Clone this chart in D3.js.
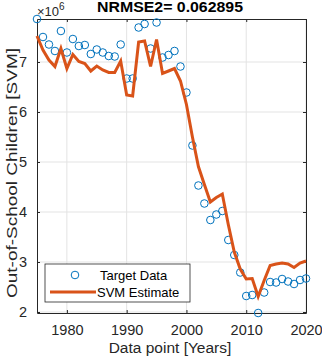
<!DOCTYPE html>
<html>
<head>
<meta charset="utf-8">
<script src="https://cdn.jsdelivr.net/npm/d3@7"></script>
<style>
  body { margin: 0; background: #fff; }
  svg { font-family: Arial, "Liberation Sans", sans-serif; }
</style>
</head>
<body>
<svg id="chart" width="322" height="357"></svg>
<script>
// values in millions of children
const years = d3.range(1975, 2021);
const target = [7.86, 7.50, 7.35, 7.22, 7.62, 7.19, 7.46, 7.32, 7.34, 7.16,
  7.25, 7.19, 7.12, 7.11, 7.35, 6.67, 6.67, 7.69, 7.76, 7.27,
  7.79, 7.09, 7.14, 7.22, 6.91, 6.39, 5.33, 4.53, 4.17, 3.84,
  3.95, 4.02, 3.44, 3.14, 2.79, 2.32, 2.34, 1.98, 2.39, 2.60,
  2.59, 2.66, 2.61, 2.56, 2.64, 2.67];
const svmEst = [7.52, 7.24, 7.04, 6.91, 7.27, 6.87, 7.15, 7.01, 6.97, 6.82,
  6.92, 6.84, 6.79, 6.79, 7.02, 6.34, 6.32, 7.40, 7.42, 6.91,
  7.45, 6.77, 6.82, 6.87, 6.62, 6.15, 5.50, 4.91, 4.55, 4.20,
  4.29, 4.36, 3.75, 3.20, 2.86, 2.66, 2.67, 2.31, 2.63, 2.93,
  2.96, 2.98, 2.96, 2.89, 2.98, 3.02];
const xTicks = [1980, 1990, 2000, 2010, 2020];
const yTicks = [2, 3, 4, 5, 6, 7];

const svg = d3.select("#chart");
const mLeft = 37, mRight = 306, mTop = 19, mBottom = 313;

const x = d3.scaleLinear().domain([1975, 2020]).range([mLeft, mRight]);
const y = d3.scaleLinear().domain(d3.extent(target)).range([mBottom, mTop]);

// grid
const grid = svg.append("g").attr("stroke", "#e3e3e3").attr("stroke-width", 1);
grid.selectAll(".gx").data(xTicks).join("line")
  .attr("x1", d => x(d)).attr("x2", d => x(d)).attr("y1", mTop).attr("y2", mBottom);
grid.selectAll(".gy").data(yTicks).join("line")
  .attr("x1", mLeft).attr("x2", mRight).attr("y1", d => y(d)).attr("y2", d => y(d));

// axes
const axisStyle = g => {
  g.select(".domain").attr("stroke", "#262626");
  g.selectAll(".tick line").attr("stroke", "#262626");
  g.selectAll("text").attr("fill", "#262626").attr("font-size", 14.5);
};
svg.append("g").attr("transform", `translate(0,${mBottom})`)
  .call(d3.axisBottom(x).tickValues(xTicks).tickSize(-3).tickSizeOuter(0).tickPadding(12).tickFormat(d3.format("d")))
  .call(axisStyle);
svg.append("g").attr("transform", `translate(0,${mTop})`)
  .call(d3.axisTop(x).tickValues(xTicks).tickSize(-3).tickSizeOuter(0).tickFormat(""))
  .call(axisStyle);
svg.append("g").attr("transform", `translate(${mLeft},0)`)
  .call(d3.axisLeft(y).tickValues(yTicks).tickSize(-3).tickSizeOuter(0).tickPadding(10).tickFormat(d3.format("d")))
  .call(axisStyle);
svg.append("g").attr("transform", `translate(${mRight},0)`)
  .call(d3.axisRight(y).tickValues(yTicks).tickSize(-3).tickSizeOuter(0).tickFormat(""))
  .call(axisStyle);

// target circles
svg.append("g").selectAll("circle").data(years).join("circle")
  .attr("cx", d => x(d)).attr("cy", (d, i) => y(target[i])).attr("r", 3.8)
  .attr("fill", "none").attr("stroke", "#0072BD").attr("stroke-width", 1);

// SVM line
const line = d3.line().x(d => x(d[0])).y(d => y(d[1]));
svg.append("path").datum(years.map((yr, i) => [yr, svmEst[i]]))
  .attr("d", line).attr("fill", "none").attr("stroke", "#D95319")
  .attr("stroke-width", 3).attr("stroke-linejoin", "miter");

// title & labels
svg.append("text").attr("x", 170).attr("y", 12).attr("text-anchor", "middle")
  .attr("font-size", 14).attr("font-weight", "bold").attr("fill", "#000")
  .attr("textLength", 146).attr("lengthAdjust", "spacingAndGlyphs")
  .text("NRMSE2= 0.062895");
const expo = svg.append("text").attr("x", 37).attr("y", 16).attr("font-size", 13).attr("fill", "#262626");
expo.append("tspan").text("×10");
expo.append("tspan").attr("dy", -6).attr("font-size", 10).text("6");
svg.append("text").attr("x", 170).attr("y", 353).attr("text-anchor", "middle")
  .attr("font-size", 15.5).attr("fill", "#262626").text("Data point [Years]");
svg.append("text").attr("transform", "translate(17,173) rotate(-90)").attr("text-anchor", "middle")
  .attr("font-size", 15.5).attr("fill", "#262626")
  .attr("textLength", 250).attr("lengthAdjust", "spacingAndGlyphs")
  .text("Out-of-School  Children [SVM]");

// legend
const lg = svg.append("g").attr("transform", "translate(45,264)");
lg.append("rect").attr("width", 145).attr("height", 38)
  .attr("fill", "#fff").attr("stroke", "#262626").attr("stroke-width", 0.8);
lg.append("circle").attr("cx", 30).attr("cy", 11).attr("r", 3.8)
  .attr("fill", "none").attr("stroke", "#0072BD");
lg.append("line").attr("x1", 5).attr("x2", 51).attr("y1", 28).attr("y2", 28)
  .attr("stroke", "#D95319").attr("stroke-width", 3);
lg.append("text").attr("x", 55).attr("y", 15.5).attr("font-size", 13).attr("fill", "#000").text("Target Data");
lg.append("text").attr("x", 52).attr("y", 32.5).attr("font-size", 13).attr("fill", "#000").text("SVM Estimate");
</script>
</body>
</html>
